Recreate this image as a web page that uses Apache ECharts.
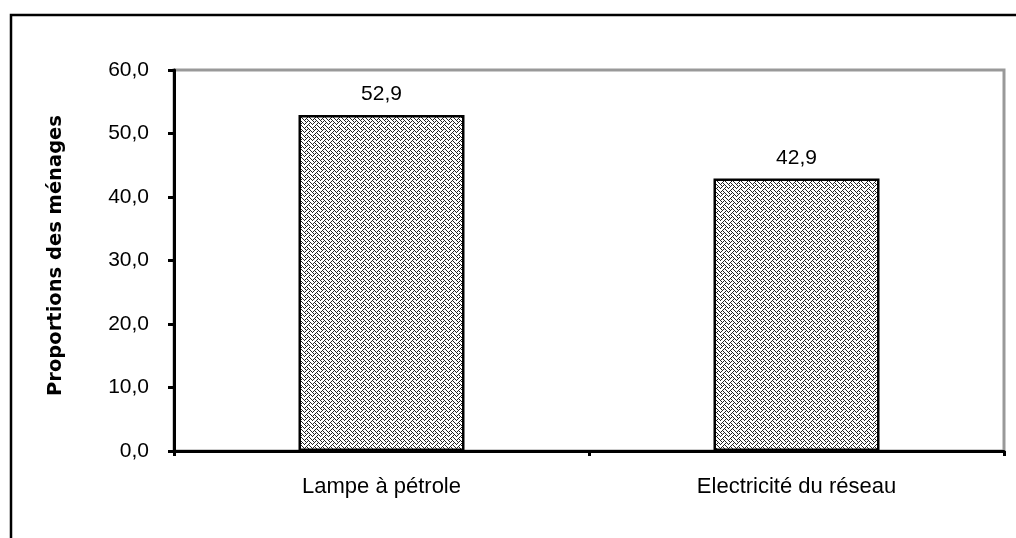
<!DOCTYPE html>
<html>
<head>
<meta charset="utf-8">
<script src="https://cdn.jsdelivr.net/npm/echarts@6/dist/echarts.min.js"></script>
<style>
  html, body { margin: 0; padding: 0; background: #fff; }
  #myReport { width: 1016px; height: 538px; }
</style>
</head>
<body>
<div id="myReport"></div>
<script type="text/javascript">
var categories = ['Lampe à pétrole', 'Electricité du réseau'];
var values = [52.9, 42.9];
var yTicks = [0, 10, 20, 30, 40, 50, 60];

// motif "tissage" comme dans Excel
function weave() {
    var rows = [0x88, 0x54, 0x22, 0x45, 0x88, 0x14, 0x22, 0x51];
    var c = document.createElement('canvas');
    c.width = 8; c.height = 8;
    var ctx = c.getContext('2d');
    ctx.fillStyle = '#fff';
    ctx.fillRect(0, 0, 8, 8);
    ctx.fillStyle = '#222';
    for (var y = 0; y < 8; y++) {
        for (var x = 0; x < 8; x++) {
            if (rows[y] & (0x80 >> x)) ctx.fillRect(x, y, 1, 1);
        }
    }
    return c;
}

function fmt(v) { return v.toFixed(1).replace('.', ','); }

var myChart = echarts.init(document.getElementById('myReport'));
var option = {
    animation: false,
    textStyle: { fontFamily: 'Liberation Sans, Arial, sans-serif' },
    graphic: [{
        type: 'rect',
        shape: { x: 11, y: 15, width: 1100, height: 600 },
        style: { fill: 'none', stroke: '#000', lineWidth: 2.5 },
        z: 0
    }],
    grid: {
        left: 174, right: 12, top: 70, bottom: 87,
        show: true, borderColor: '#999', borderWidth: 3,
        backgroundColor: 'transparent'
    },
    xAxis: {
        type: 'category',
        data: categories,
        axisLine: { lineStyle: { color: '#000', width: 3 } },
        axisTick: { show: true, length: 5, lineStyle: { color: '#000', width: 3 } },
        axisLabel: { color: '#000', fontSize: 22, margin: 25, interval: 0 }
    },
    yAxis: {
        type: 'value',
        min: yTicks[0], max: yTicks[yTicks.length - 1], interval: 10,
        name: 'Proportions des ménages',
        nameLocation: 'middle',
        nameGap: 108,
        nameTextStyle: { color: '#000', fontSize: 19.5, fontWeight: 'bold', fontFamily: 'DejaVu Sans', padding: [0, 0, 0, 10] },
        axisLine: { show: true, lineStyle: { color: '#000', width: 3 } },
        axisTick: { show: true, length: 6, lineStyle: { color: '#000', width: 3 } },
        axisLabel: { color: '#000', fontSize: 21, margin: 25, formatter: fmt },
        splitLine: { show: false }
    },
    series: [{
        type: 'bar',
        data: values,
        barWidth: '40%',
        itemStyle: {
            color: { image: weave(), repeat: 'repeat' },
            borderColor: '#000',
            borderWidth: 2.5
        },
        label: {
            show: true, position: 'top', distance: 10,
            color: '#000', fontSize: 21,
            formatter: function (p) { return fmt(p.value); }
        }
    }]
};
myChart.setOption(option);
</script>
</body>
</html>
